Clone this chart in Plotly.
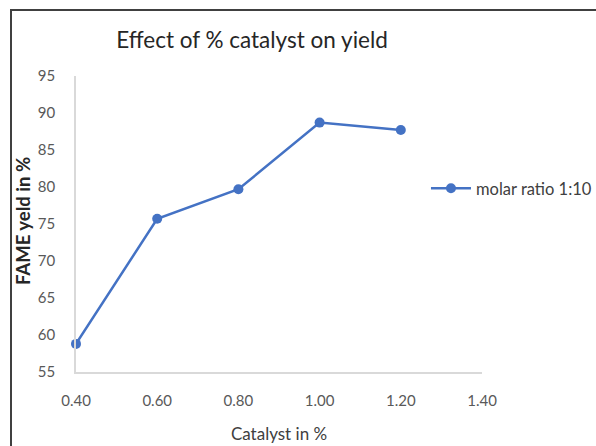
import plotly.graph_objects as go

# Catalyst loading (%) vs FAME yield (%)
catalyst = [0.40, 0.60, 0.80, 1.00, 1.20]
fame_yield = [58.8, 75.7, 79.7, 88.7, 87.7]
series_name = "molar ratio 1:10"

x_ticks = [0.40, 0.60, 0.80, 1.00, 1.20, 1.40]
y_ticks = [55, 60, 65, 70, 75, 80, 85, 90, 95]

blue = "#4472C4"
font_family = "Lato, 'Open Sans', sans-serif"

fig = go.Figure()
fig.add_trace(go.Scatter(
    x=catalyst, y=fame_yield, name=series_name,
    mode="lines+markers",
    line=dict(color=blue, width=2.5),
    marker=dict(color=blue, size=10),
    cliponaxis=False,
))

fig.update_layout(
    width=596, height=446,
    margin=dict(l=76, r=114, t=76, b=74, autoexpand=False),
    paper_bgcolor="white", plot_bgcolor="white",
    font=dict(family=font_family, color="#595959", size=15),
    title=dict(text="Effect of % catalyst on yield", x=252 / 596, xanchor="center",
               y=1 - 40 / 446, yanchor="middle",
               font=dict(size=22.5, color="#262626", family=font_family)),
    showlegend=True,
    legend=dict(x=0.862, y=0.62, xanchor="left", yanchor="middle",
                bgcolor="rgba(0,0,0,0)", font=dict(size=16.5, color="#404040"),
                itemwidth=40),
    xaxis=dict(range=[0.4, 1.4], tickvals=x_ticks, tickformat=".2f",
               showgrid=False, zeroline=False, showline=True,
               linecolor="#d9d9d9", linewidth=1.5, ticks="",
               ticklabelstandoff=14,
               title=dict(text="Catalyst in %", font=dict(size=17, color="#404040"),
                          standoff=20)),
    yaxis=dict(range=[55, 95], tickvals=y_ticks,
               showgrid=False, zeroline=False, showline=True,
               linecolor="#d9d9d9", linewidth=1.5, ticks="",
               ticklabelstandoff=16),
)

# y-axis title, rotated, placed left of the tick labels
fig.add_annotation(text="<b>FAME yeld in %</b>", textangle=-90,
                   xref="paper", yref="paper", x=(23 - 76) / 406, y=(372 - 221) / 296,
                   xanchor="center", yanchor="middle", showarrow=False,
                   font=dict(size=18.5, color="#262626", family=font_family))

# outer chart frame
fig.add_shape(type="rect", xref="paper", yref="paper",
              x0=-65 / 406, x1=1.5, y0=-0.5, y1=(446 - 10 - 74) / 296,
              line=dict(color="#404040", width=2), fillcolor="rgba(0,0,0,0)",
              layer="below")

fig.write_html("out.html")
